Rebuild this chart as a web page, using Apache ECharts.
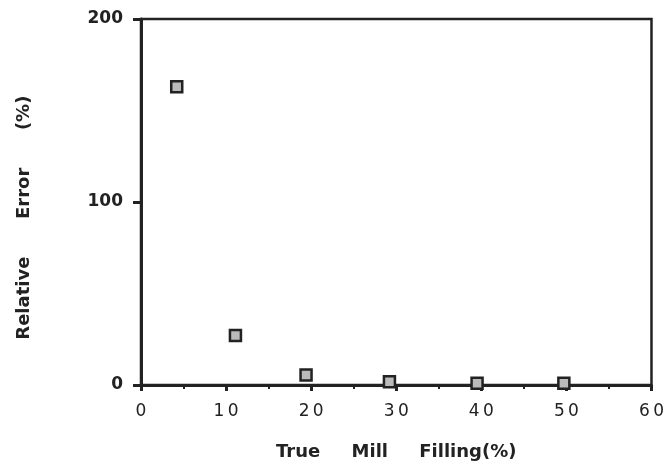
<!DOCTYPE html>
<html>
<head>
<meta charset="utf-8">
<script src="https://cdn.jsdelivr.net/npm/echarts@6/dist/echarts.min.js"></script>
<style>
  html, body { margin: 0; padding: 0; background: #fff; }
  #main { width: 667px; height: 466px; }
</style>
</head>
<body>
<div id="main"></div>
<script>
// data
const millFilling = [4.2, 11.1, 19.4, 29.2, 39.5, 49.7]
const relError = [163, 27, 5.5, 1.8, 1, 1]
const xTicks = [0, 10, 20, 30, 40, 50, 60]
const yTicks = [0, 100, 200]

const chart = echarts.init(document.getElementById('main'))

const ink = '#222'
const titleFont = { color: ink, fontFamily: 'DejaVu Sans', fontSize: 18, fontWeight: 'bold' }

const option = {
  animation: false,
  grid: { left: 141, right: 15, top: 19, bottom: 79, show: true, borderColor: ink, borderWidth: 2.5 },
  xAxis: {
    type: 'value',
    min: 0, max: 60, interval: 10,
    axisLine: { show: true, lineStyle: { color: ink, width: 3 } },
    axisTick: { show: true, length: 6, lineStyle: { color: ink, width: 3 } },
    minorTick: { show: true, splitNumber: 2, length: 4, lineStyle: { color: ink, width: 2 } },
    splitLine: { show: false },
    axisLabel: {
      margin: 18, color: ink, fontFamily: 'DejaVu Sans', fontSize: 17,
      // small gap between digits, as in the original lettering
      formatter: v => xTicks.includes(v) ? String(v).split('').join('\u2009') : ''
    },
    name: 'True     Mill     Filling(%)',
    nameLocation: 'middle',
    nameGap: 58,
    nameTextStyle: titleFont
  },
  yAxis: {
    type: 'value',
    min: 0, max: 200, interval: 100,
    axisLine: { show: true, lineStyle: { color: ink, width: 3 } },
    axisTick: { show: true, inside: false, length: 8, lineStyle: { color: ink, width: 3 } },
    splitLine: { show: false },
    axisLabel: {
      margin: 18, color: ink, fontFamily: 'DejaVu Sans', fontSize: 17, fontWeight: 'bold',
      formatter: v => yTicks.includes(v) ? String(v) : ''
    },
    // trailing spaces nudge the title a bit lower, like the original
    name: 'Relative      Error      (%)     ',
    nameLocation: 'middle',
    nameGap: 108,
    nameTextStyle: titleFont
  },
  series: [{
    type: 'scatter',
    data: millFilling.map((x, i) => [x, relError[i]]),
    symbol: 'rect',
    symbolSize: 11,
    itemStyle: { color: '#bbb', borderColor: '#222', borderWidth: 2.5, opacity: 1 }
  }]
}

chart.setOption(option)
</script>
</body>
</html>
